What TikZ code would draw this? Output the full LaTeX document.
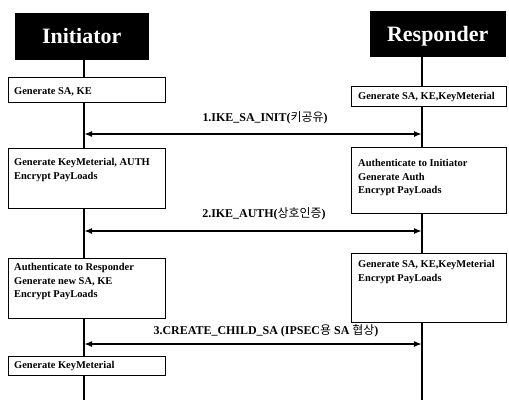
\documentclass[tikz,border=0pt]{standalone}
\usepackage{fontspec}
\setmainfont{Liberation Serif}
\newfontfamily\kr{Noto Sans CJK KR}
\usetikzlibrary{arrows.meta}
\begin{document}
\begin{tikzpicture}[x=1bp,y=-1bp,
  hdr/.style={fill=black, draw=black, text=white, anchor=north west, inner sep=0pt,
              text depth=0pt, font=\bfseries\fontsize{22}{26}\selectfont},
  act/.style={draw=black, line width=1bp, fill=white, anchor=north west, inner sep=0pt,
              minimum width=157bp},
  acttxt/.style={anchor=north west, align=left, inner sep=0pt,
                 font=\bfseries\fontsize{10.5}{13.6}\selectfont},
  life/.style={line width=2.8bp},
  msg/.style={line width=2.3bp, {Latex[length=8bp,width=6bp]}-{Latex[length=8bp,width=6bp]}},
  lbl/.style={font=\bfseries\fontsize{12}{14}\selectfont, inner sep=0pt}]

\useasboundingbox (0,0) rectangle (509,400);

% headers
\node[hdr, minimum width=133bp, minimum height=46bp] (ini) at (15,13) {Initiator};
\node[hdr, minimum width=135bp, minimum height=45bp] (res) at (370,11) {Responder};

% lifelines
\coordinate (iBot) at (84,400);
\coordinate (rBot) at (422,400);
\draw[life] (ini.south -| iBot) -- (iBot);
\draw[life] (res.south -| rBot) -- (rBot);

% initiator boxes
\node[act, minimum height=25bp] (l1) at (8,77) {};
\node[acttxt] (l1t) at (14,87.3) {Generate SA, KE};

\node[act, minimum height=60bp] (l2) at (8,148) {};
\node[acttxt] (l2t) at (14,158.3) {Generate KeyMeterial, AUTH\\Encrypt PayLoads};

\node[act, minimum height=60bp] (l3) at (8,258) {};
\node[acttxt] (l3t) at (14,263) {Authenticate to Responder\\Generate new SA, KE\\Encrypt PayLoads};

\node[act, minimum height=19bp] (l4) at (8,356) {};
\node[acttxt] (l4t) at (14,361.5) {Generate KeyMeterial};

% responder boxes
\node[act, minimum width=155bp, minimum height=20bp] (r1) at (351,86) {};
\node[acttxt] (r1t) at (358,92.3) {Generate SA, KE,KeyMeterial};

\node[act, minimum width=155bp, minimum height=66bp] (r2) at (351,147) {};
\node[acttxt] (r2t) at (358,159) {Authenticate to Initiator\\Generate Auth\\Encrypt PayLoads};

\node[act, minimum width=155bp, minimum height=69bp] (r3) at (351,253) {};
\node[acttxt] (r3t) at (358,260) {Generate SA, KE,KeyMeterial\\Encrypt PayLoads};

% messages
\coordinate (m1l) at (84,134);
\coordinate (m1r) at (422,134);
\draw[msg] (m1l) -- (m1r);
\node[lbl] (m1t) at (265,118) {1.IKE\_SA\_INIT({\kr\mdseries 키공유})};

\coordinate (m2l) at (84,231);
\coordinate (m2r) at (422,231);
\draw[msg] (m2l) -- (m2r);
\node[lbl] (m2t) at (264,214) {2.IKE\_AUTH({\kr\mdseries 상호인증})};

\coordinate (m3l) at (84,344);
\coordinate (m3r) at (422,344);
\draw[msg] (m3l) -- (m3r);
\node[lbl] (m3t) at (266,331) {3.CREATE\_CHILD\_SA (IPSEC{\kr\mdseries 용} SA {\kr\mdseries 협상})};
\end{tikzpicture}
\end{document}
